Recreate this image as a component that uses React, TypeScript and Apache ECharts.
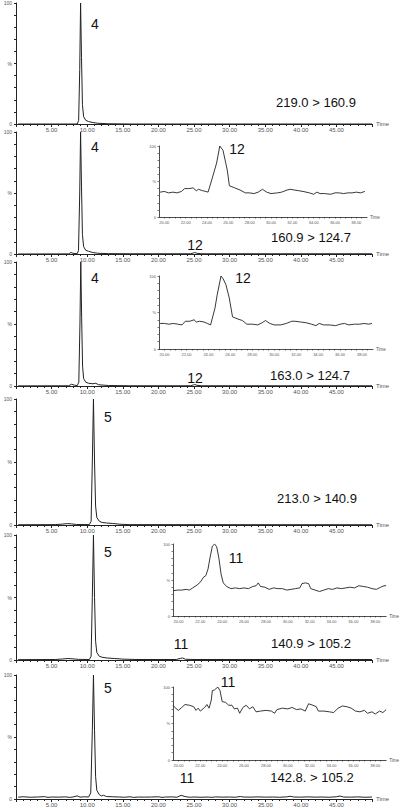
import React, { useEffect, useRef } from 'react';
import * as echarts from 'echarts';

// ---- Data ----
const transitions = ['219.0 > 160.9', '160.9 > 124.7', '163.0 > 124.7', '213.0 > 140.9', '140.9 > 105.2', '142.8. > 105.2'];
const mainPeakLabels = ['4', '4', '4', '5', '5', '5'];
const minorPeakLabels = ['', '12', '12', '', '11', '11'];
const insetPanels = [1, 2, 4, 5];

const trace1 = [[0.3,0],[8.6,0],[8.8,3],[8.95,45],[9.07,100],[9.2,55],[9.33,16],[9.5,6],[9.8,3],[10.2,2],[10.8,1.2],[11.5,0.6],[13,0.2],[16,0],[50,0]];
const trace2 = [[0.3,0],[7.4,0.1],[7.7,1.2],[8.0,0.6],[8.6,0.2],[8.78,3],[8.95,50],[9.07,100],[9.2,55],[9.33,16],[9.5,6],[9.8,3],[10.2,2.2],[10.8,1.2],[11.5,0.6],[13,0.3],[16,0.2],[24.5,0.2],[24.9,0.8],[25.1,1.2],[25.4,0.6],[26,0.2],[50,0.2]];
const trace3 = [[0.3,0.1],[7.4,0.2],[7.8,1.4],[8.2,0.7],[8.6,0.3],[8.82,3],[8.98,50],[9.1,100],[9.22,55],[9.35,16],[9.5,6],[9.8,3],[10.2,2.2],[10.8,1.8],[11.2,2.2],[11.6,1],[13,0.4],[16,0.2],[24.5,0.2],[24.9,0.8],[25.1,1.2],[25.4,0.6],[26,0.2],[50,0.2]];
const trace4 = [[0.3,0.2],[5.5,0.3],[6.5,0.7],[7.2,1.1],[7.8,0.9],[8.5,0.4],[10.3,0.3],[10.55,3],[10.72,50],[10.88,100],[11.03,50],[11.18,15],[11.35,6],[11.7,3],[12.1,2],[12.7,1.6],[13.6,1.2],[14.6,0.6],[16,0.3],[50,0.2]];
const trace5 = [[0.3,0.3],[5.5,0.4],[6.5,0.8],[7.3,1.2],[8,0.9],[8.8,0.5],[10.3,0.4],[10.55,3],[10.72,50],[10.88,100],[11.03,50],[11.18,15],[11.35,6],[11.7,3],[12.1,2.2],[12.8,1.6],[13.8,1.2],[15,0.7],[17,0.4],[22.5,0.4],[23.1,1.3],[23.4,1.6],[23.8,0.6],[25,0.4],[50,0.4]];
const trace6 = [[0.3,1.5],[1,1.8],[2,1.4],[3,1.6],[4,1.9],[4.5,1.3],[5,1.6],[6,1.5],[7,1.7],[7.5,1.3],[8,1.6],[8.6,2.5],[9,1.5],[9.6,1.8],[10.2,1.6],[10.5,5],[10.72,55],[10.88,100],[11.03,55],[11.18,18],[11.35,7],[11.7,3.5],[12,2.5],[12.3,3],[12.7,2],[13.5,1.8],[14.5,1.6],[15.2,1.4],[16,1.8],[16.5,1.3],[17.2,1.6],[18,1.5],[19,1.6],[20,1.8],[20.5,1.3],[21,1.6],[22,1.7],[22.6,1.4],[23.2,3],[23.6,2.2],[24,1.7],[24.5,1.4],[25,1.6],[26,1.4],[27,1.6],[27.5,1.3],[28,1.7],[29,1.5],[30,1.6],[30.8,1.4],[31.5,2],[32,1.6],[33,1.5],[34,1.7],[35,1.5],[36,1.6],[37,1.4],[38,1.7],[38.5,2.2],[39,1.6],[40,1.5],[41,1.7],[42,1.5],[43,1.6],[44,1.4],[45,1.8],[45.5,2.4],[46,1.6],[47,1.5],[48,1.7],[49,1.4],[50,1.6]];

const inset2 = [[19.6,35],[20,36],[20.4,34],[20.8,35],[21.2,34],[21.6,36],[21.9,40],[22.3,40],[22.7,41],[23,37],[23.2,39],[23.6,37],[23.9,36],[24.1,35],[24.5,55],[24.9,76],[25.2,100],[25.5,94],[25.9,66],[26.1,44],[26.6,41],[27.1,38],[27.6,34],[28,34],[28.4,33],[28.8,35],[29.2,39],[29.6,35],[30,33],[30.6,34],[31,35],[31.5,38],[31.8,39],[32.2,38],[32.6,37],[33,36],[33.6,34],[34,32],[34.3,35],[34.6,33],[35,33],[35.6,32],[36,34],[36.4,34],[36.8,33],[37.2,34],[37.6,34],[38,35],[38.4,34],[38.8,36]];
const inset3 = [[19.6,35],[20,35],[20.4,34],[20.8,35],[21.2,34],[21.6,33],[21.9,38],[22.3,38],[22.7,40],[22.9,37],[23.2,38],[23.6,37],[23.9,35],[24.2,33],[24.6,56],[24.8,74],[25.15,100],[25.35,96],[25.6,88],[25.9,70],[26.2,44],[26.7,41],[27.1,39],[27.5,34],[28,34],[28.5,33],[28.9,36],[29.2,39],[29.6,35],[30,33],[30.6,33],[31.1,35],[31.6,38],[31.9,38],[32.4,37],[32.9,36],[33.4,34],[33.8,32],[34.1,35],[34.5,33],[35,33],[35.6,32],[36,34],[36.4,35],[36.8,33],[37.3,34],[37.8,34],[38.2,35],[38.6,34],[38.9,35]];
const inset5 = [[19.5,35],[19.9,36],[20.3,36],[20.7,37],[21,36],[21.3,39],[21.7,43],[22,47],[22.3,54],[22.5,56],[22.7,65],[22.9,82],[23.1,97],[23.3,100],[23.5,96],[23.7,80],[23.9,58],[24.1,46],[24.4,41],[24.8,38],[25.2,39],[25.6,38],[26,39],[26.4,38],[26.8,41],[27.1,42],[27.3,46],[27.5,41],[27.9,40],[28.3,37],[28.7,39],[29.1,38],[29.5,38],[29.9,36],[30.3,37],[30.7,38],[31.1,39],[31.3,45],[31.6,46],[31.9,45],[32.1,38],[32.5,36],[32.9,34],[33.3,36],[33.7,38],[34.1,37],[34.5,39],[34.9,38],[35.3,39],[35.7,40],[36.1,39],[36.5,42],[36.9,41],[37.3,40],[37.7,38],[38.1,37],[38.5,40],[38.8,42],[39,42]];
const inset6 = [[19.5,75],[19.8,70],[20,68],[20.3,72],[20.6,76],[21,75],[21.4,73],[21.6,68],[21.8,71],[22,67],[22.4,72],[22.6,76],[22.8,71],[23,82],[23.1,95],[23.3,96],[23.6,100],[23.8,95],[24,80],[24.3,79],[24.6,75],[24.9,75],[25.1,70],[25.4,71],[25.6,64],[25.9,72],[26.2,75],[26.5,70],[26.8,73],[27.1,66],[27.5,67],[28,68],[28.5,67],[28.8,64],[29,69],[29.5,71],[30,70],[30.4,72],[30.8,69],[31.2,70],[31.6,67],[31.9,77],[32.3,75],[32.6,73],[32.8,67],[33.3,67],[33.8,66],[34.2,65],[34.6,71],[35,74],[35.4,73],[35.8,71],[36.2,67],[36.6,66],[37,68],[37.3,64],[37.7,66],[38,63],[38.4,67],[38.7,65],[39,69]];

const mainTraces = [trace1, trace2, trace3, trace4, trace5, trace6];
const insetTraces = [inset2, inset3, inset5, inset6];
const insetXLabels = [20, 22, 24, 26, 28, 30, 32, 34, 36, 38];

// ---- Layout ----
const mainGrids = [
  { top: 3, height: 121 },
  { top: 132, height: 122 },
  { top: 262, height: 124 },
  { top: 399, height: 126 },
  { top: 535, height: 125 },
  { top: 675, height: 125 },
];
const insetGrids = [
  { left: 159, top: 146, width: 208, height: 71 },
  { left: 159, top: 276, width: 214, height: 73 },
  { left: 173, top: 544, width: 214, height: 72 },
  { left: 173, top: 687, width: 214, height: 73 },
];
const peakPos = [[95, 24], [95, 147], [95, 278], [108, 417], [108, 552], [108, 688]];
const transPos = [[316, 102], [311, 237], [310, 375], [317, 498], [311, 643], [312, 777]];
const minorMainPos = [null, [195, 245], [195, 378], null, [181, 644], [187, 778]];
const minorInsetPos = [null, [237, 149], [243, 278], null, [236, 558], [228, 682]];

const FONT = 'Liberation Sans, Arial, sans-serif';
const INK = '#222';
const LAB = '#555';

export default function App() {
  const ref = useRef<HTMLDivElement>(null);
  useEffect(() => {
    if (!ref.current) return;
    const chart = echarts.init(ref.current, null, { renderer: 'svg' });
    const grid: any[] = [];
    const xAxis: any[] = [];
    const yAxis: any[] = [];
    const series: any[] = [];
    const yLabel = (v: number) => (v === 100 ? '100' : v === 50 ? '%' : v === 0 ? '0' : '');

    mainGrids.forEach((g, i) => {
      grid.push({ left: 16, width: 356, top: g.top, height: g.height });
      xAxis.push({
        gridIndex: i, type: 'value', min: 0, max: 50, interval: 5,
        axisLine: { show: true, onZero: false, lineStyle: { color: INK, width: 1 } },
        axisTick: { show: true, length: 3, lineStyle: { color: INK } },
        minorTick: { show: true, splitNumber: 5, length: 2, lineStyle: { color: INK } },
        splitLine: { show: false },
        axisLabel: { fontSize: 6, color: LAB, margin: 3, fontFamily: FONT,
          formatter: (v: number) => (v === 0 || v === 50 ? '' : v.toFixed(2)) },
        name: 'Time', nameLocation: 'end', nameGap: 4,
        nameTextStyle: { fontSize: 6, color: LAB, fontFamily: FONT },
      });
      yAxis.push({
        gridIndex: i, type: 'value', min: 0, max: 100, interval: 10,
        axisLine: { show: true, lineStyle: { color: INK, width: 1 } },
        axisTick: { show: true, length: 2, lineStyle: { color: INK } },
        splitLine: { show: false },
        axisLabel: { fontSize: 5, color: LAB, margin: 4, fontFamily: FONT, formatter: yLabel,
          showMinLabel: true, showMaxLabel: true },
      });
      series.push({
        type: 'line', xAxisIndex: i, yAxisIndex: i, data: mainTraces[i],
        showSymbol: false, symbol: 'none', lineStyle: { color: INK, width: 1 }, silent: true,
      });
    });

    const insetTicks: number[] = [];
    for (let t = 20; t <= 38.5; t += 0.5) insetTicks.push(t);

    insetGrids.forEach((g, k) => {
      const idx = 6 + k;
      grid.push({ left: g.left, top: g.top, width: g.width, height: g.height });
      xAxis.push({
        gridIndex: idx, type: 'value', min: 19.5, max: 39,
        axisLine: { show: true, onZero: false, lineStyle: { color: INK, width: 0.8 } },
        axisTick: { show: true, length: 1.5, customValues: insetTicks, lineStyle: { color: INK, width: 0.6 } },
        splitLine: { show: false },
        axisLabel: { fontSize: 4, color: LAB, margin: 3, fontFamily: FONT, customValues: insetXLabels,
          formatter: (v: number) => v.toFixed(2) },
        name: 'Time', nameLocation: 'end', nameGap: 3,
        nameTextStyle: { fontSize: 4.5, color: LAB, fontFamily: FONT },
      });
      yAxis.push({
        gridIndex: idx, type: 'value', min: 0, max: 100, interval: 10,
        axisLine: { show: true, lineStyle: { color: INK, width: 0.8 } },
        axisTick: { show: true, length: 1.5, lineStyle: { color: INK, width: 0.6 } },
        splitLine: { show: false },
        axisLabel: { fontSize: 4, color: LAB, margin: 3, fontFamily: FONT, formatter: yLabel,
          showMinLabel: true, showMaxLabel: true },
      });
      series.push({
        type: 'line', xAxisIndex: idx, yAxisIndex: idx, data: insetTraces[k],
        showSymbol: false, symbol: 'none', lineStyle: { color: INK, width: 0.9 }, silent: true,
      });
    });

    const graphic: any[] = [];
    const txt = (s: string, p: number[], size: number) => ({
      type: 'text', x: p[0], y: p[1],
      style: { text: s, fontSize: size, fontFamily: FONT, fill: '#111', align: 'center', verticalAlign: 'middle' },
      silent: true,
    });
    for (let i = 0; i < 6; i++) {
      graphic.push(txt(mainPeakLabels[i], peakPos[i], 14));
      graphic.push(txt(transitions[i], transPos[i], 13));
      const mm = minorMainPos[i];
      const mi = minorInsetPos[i];
      if (minorPeakLabels[i] && mm) graphic.push(txt(minorPeakLabels[i], mm, 14));
      if (minorPeakLabels[i] && mi) graphic.push(txt(minorPeakLabels[i], mi, 14));
    }

    chart.setOption({
      animation: false,
      backgroundColor: '#fff',
      grid, xAxis, yAxis, series, graphic,
    });
    return () => chart.dispose();
  }, []);
  return <div ref={ref} style={{ position: 'fixed', left: 0, top: 0, width: 400, height: 808 }} />;
}
